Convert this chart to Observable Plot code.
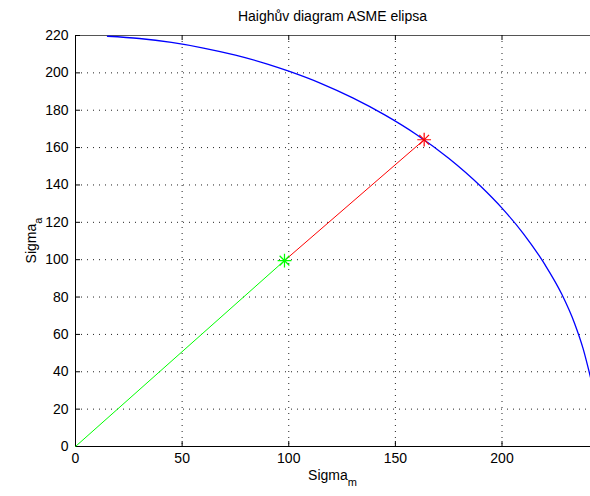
<!DOCTYPE html>
<html>
<head>
<meta charset="utf-8">
<script src="https://cdn.jsdelivr.net/npm/d3@7"></script>
<script src="https://cdn.jsdelivr.net/npm/@observablehq/plot@0.6"></script>
<style>
  html, body { margin: 0; padding: 0; background: #fff; }
  #chart svg { display: block; }
</style>
</head>
<body>
<div id="chart"></div>
<script>
// ---- data ----
const titleText = "Haighův diagram ASME elipsa";
const xLabelMain = "Sigma", xLabelSub = "m";
const yLabelMain = "Sigma", yLabelSub = "a";

const xTicks = [0, 50, 100, 150, 200];
const yTicks = [0, 20, 40, 60, 80, 100, 120, 140, 160, 180, 200, 220];

// ASME ellipse (blue curve)
const ellipseM = [15, 30, 45, 60, 75, 90, 100, 115, 130, 145, 160, 175, 190, 200, 210, 220, 228, 234, 238, 241.5];
const ellipseA = [219.6, 218.4, 216.3, 213.3, 209.5, 204.7, 200.9, 194.4, 186.6, 177.5, 166.9, 154.3, 139.3, 127.6, 114.0, 97.6, 81.6, 66.0, 52.5, 37];

// load line: green from origin to working point, red from working point to limit point
const greenM = [0, 98];
const greenA = [0, 99.5];
const redM = [98, 163.5];
const redA = [99.5, 164.2];

// marker points (asterisks)
const starM = [98, 163.5];
const starA = [99.5, 164.2];
const starColor = ["#00ff00", "#ff0000"];

const xMax = 241.5, yMax = 220;

// ---- build tables ----
const ellipse = ellipseM.map((m, i) => ({m, a: ellipseA[i]}));
const green = greenM.map((m, i) => ({m, a: greenA[i]}));
const red = redM.map((m, i) => ({m, a: redA[i]}));
const stars = starM.map((m, i) => ({m, a: starA[i], c: starColor[i]}));

const W = 590, H = 496;
const mL = 75, mR = 0, mT = 35, mB = 50;
const frameH = H - mT - mB, frameW = W - mL - mR;
const tick = 5;

const font = "'Liberation Sans', Arial, Helvetica, sans-serif";

const chart = Plot.plot({
  width: W,
  height: H,
  marginLeft: mL,
  marginRight: mR,
  marginTop: mT,
  marginBottom: mB,
  x: {domain: [0, xMax]},
  y: {domain: [0, yMax]},
  style: {fontFamily: font, fontSize: "14px", background: "#fff", color: "#000"},
  marks: [
    Plot.gridX(xTicks.filter(d => d > 0), {stroke: "#222", strokeOpacity: 1, strokeDasharray: "1,5"}),
    Plot.gridY(yTicks.filter(d => d > 0 && d < yMax), {stroke: "#222", strokeOpacity: 1, strokeDasharray: "1,5"}),
    // box
    Plot.ruleY([yMax], {stroke: "#555"}),
    Plot.ruleY([0], {stroke: "#000"}),
    Plot.ruleX([0], {stroke: "#000"}),
    // inward ticks
    Plot.tickX(xTicks, {x: d => d, insetTop: frameH - tick, stroke: "#000"}),
    Plot.tickX(xTicks, {x: d => d, insetBottom: frameH - tick, stroke: "#000"}),
    Plot.tickY(yTicks, {y: d => d, insetRight: frameW - tick, stroke: "#000"}),
    Plot.axisX(xTicks, {tickSize: 0, tickPadding: 7, label: null, fontSize: 14}),
    Plot.axisY(yTicks, {tickSize: 0, tickPadding: 7, label: null, fontSize: 14}),
    // data
    Plot.line(ellipse, {x: "m", y: "a", stroke: "#0000ff", strokeWidth: 1.3, curve: "monotone-x"}),
    Plot.line(green, {x: "m", y: "a", stroke: "#00ff00", strokeWidth: 1}),
    Plot.line(red, {x: "m", y: "a", stroke: "#ff0000", strokeWidth: 1}),
    Plot.dot(stars, {x: "m", y: "a", symbol: "plus", r: 4.5, stroke: "c", strokeWidth: 1.2}),
    Plot.dot(stars, {x: "m", y: "a", symbol: "times", r: 4.5, stroke: "c", strokeWidth: 1.2})
  ]
});

document.getElementById("chart").appendChild(chart);

// ---- title and axis labels as real text ----
const svg = d3.select(chart);
const cx = mL + frameW / 2;
svg.append("text")
  .attr("x", cx).attr("y", 21)
  .attr("text-anchor", "middle")
  .attr("font-family", font).attr("font-size", 14).attr("fill", "#000")
  .text(titleText);

const xl = svg.append("text")
  .attr("x", cx).attr("y", 480)
  .attr("text-anchor", "middle")
  .attr("font-family", font).attr("font-size", 14).attr("fill", "#000");
xl.append("tspan").text(xLabelMain);
xl.append("tspan").attr("dy", 6).attr("font-size", 11).text(xLabelSub);

const yl = svg.append("text")
  .attr("transform", `translate(36,${mT + frameH / 2}) rotate(-90)`)
  .attr("text-anchor", "middle")
  .attr("font-family", font).attr("font-size", 14).attr("fill", "#000");
yl.append("tspan").text(yLabelMain);
yl.append("tspan").attr("dy", 6).attr("font-size", 11).text(yLabelSub);
</script>
</body>
</html>
